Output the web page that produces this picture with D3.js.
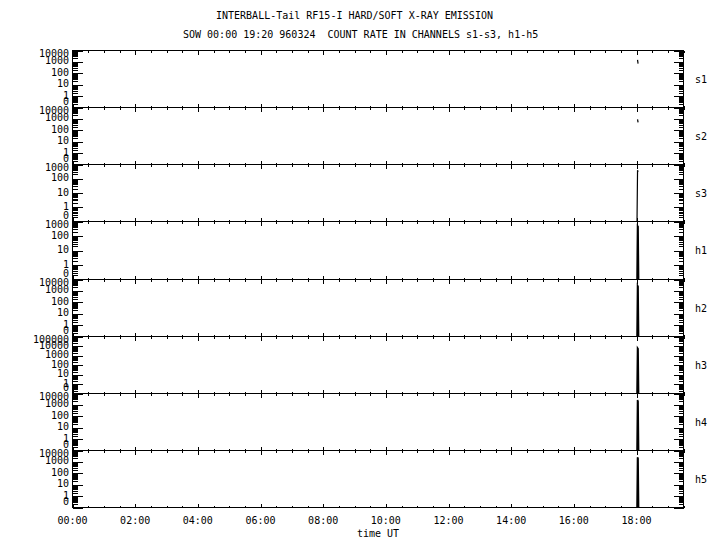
<!DOCTYPE html>
<html>
<head>
<meta charset="utf-8">
<script src="https://cdn.jsdelivr.net/npm/d3@7"></script>
<style>
  html, body { margin: 0; padding: 0; background: #fff; }
  svg { display: block; }
  text { font-family: "DejaVu Sans Mono", "Liberation Mono", monospace; font-size: 10px; fill: #000; white-space: pre; }
</style>
</head>
<body>
<script>
// ---------- data ----------
const titleLines = [
  "INTERBALL-Tail RF15-I HARD/SOFT X-RAY EMISSION",
  "SOW 00:00 19:20 960324  COUNT RATE IN CHANNELS s1-s3, h1-h5"
];
const channels = ["s1", "s2", "s3", "h1", "h2", "h3", "h4", "h5"];
const channelTop = [10000, 10000, 1000, 1000, 10000, 100000, 10000, 10000];
const xTickLabels = ["00:00", "02:00", "04:00", "06:00", "08:00", "10:00", "12:00", "14:00", "16:00", "18:00"];
const xLabel = "time UT";
const burstTimes = ["18:01", "18:02", "18:03", "18:04"];
const s1 = [null, 1500, 700, null];
const s2 = [null, 900, 500, null];
const s3 = [0, 400, 300, null];
const h1 = [0, 500, 450, 0];
const h2 = [0, 3000, 2500, 0];
const h3 = [0, 6000, 5000, 0];
const h4 = [0, 2700, 2000, 0];
const h5 = [0, 2500, 2000, 0];
const seriesValues = [s1, s2, s3, h1, h2, h3, h4, h5];

// ---------- layout ----------
const W = 720, H = 550;
const left = 72.5, right = 683.5;
const panelRows = [50, 107, 164, 221, 279, 336, 393, 450, 507];

const toHours = s => { const [h, m] = s.split(":").map(Number); return h + m / 60; };

const svg = d3.select("body").append("svg").attr("width", W).attr("height", H);
svg.append("rect").attr("width", W).attr("height", H).attr("fill", "#fff");

const x = d3.scaleLinear().domain([0, 19.5]).range([left, right]);

// titles
svg.append("text").attr("x", 216).attr("y", 15).attr("dominant-baseline", "central")
  .attr("xml:space", "preserve").text(titleLines[0]);
svg.append("text").attr("x", 183).attr("y", 34).attr("dominant-baseline", "central")
  .attr("xml:space", "preserve").text(titleLines[1]);

const majorX = d3.range(0, 19.5 + 1e-9, 2);
const minorX = d3.range(0, 19.5 + 1e-9, 0.5).filter(v => Math.abs(v % 2) > 1e-9);

channels.forEach((ch, i) => {
  const pt = panelRows[i] + 0.5, pb = panelRows[i + 1] + 0.5;
  const y = d3.scaleLog().domain([0.1, channelTop[i]]).range([pb, pt]).clamp(true);
  const g = svg.append("g");

  // frame
  g.append("rect").attr("x", left).attr("y", pt).attr("width", right - left).attr("height", pb - pt)
    .attr("fill", "none").attr("stroke", "#000").attr("stroke-width", 1).attr("shape-rendering", "crispEdges");

  // x ticks (top & bottom, inward)
  const tk = (v, len) => {
    const xx = Math.round(x(v)) + 0.5;
    g.append("line").attr("x1", xx).attr("x2", xx).attr("y1", pt).attr("y2", pt + len);
    g.append("line").attr("x1", xx).attr("x2", xx).attr("y1", pb).attr("y2", pb - len);
  };
  majorX.forEach(v => tk(v, 4));
  minorX.forEach(v => tk(v, 2));

  // y ticks (left & right, inward)
  const decades = [];
  for (let d = 0.1; d < channelTop[i] * 1.0001; d *= 10) decades.push(+d.toPrecision(3));
  const ytk = (v, len) => {
    const yy = Math.round(y(v)) + 0.5;
    g.append("line").attr("x1", left).attr("x2", left + len).attr("y1", yy).attr("y2", yy);
    g.append("line").attr("x1", right).attr("x2", right - len).attr("y1", yy).attr("y2", yy);
  };
  decades.forEach((d, k) => {
    ytk(d, 10);
    if (k < decades.length - 1) d3.range(2, 10).forEach(m => ytk(d * m, 5));
  });
  g.selectAll("line").attr("stroke", "#000").attr("stroke-width", 1).attr("shape-rendering", "crispEdges");

  // y labels
  decades.forEach(d => {
    let yy = y(d) - 1;
    yy = Math.max(pt + 2.5, Math.min(pb - 6.5, yy));
    g.append("text").attr("x", 69).attr("y", yy).attr("text-anchor", "end")
      .attr("dominant-baseline", "central").text(d < 1 ? "0" : String(d));
  });

  // channel name
  g.append("text").attr("x", 695).attr("y", (pt + pb) / 2).attr("dominant-baseline", "central").text(ch);

  // data
  const data = burstTimes.map((t, k) => ({ t: toHours(t), v: seriesValues[i][k] }));
  const line = d3.line().defined(d => d.v != null)
    .x(d => x(d.t)).y(d => y(Math.max(d.v, 0.1)));
  g.append("path").datum(data).attr("d", line).attr("fill", "none")
    .attr("stroke", "#000").attr("stroke-width", i < 3 ? 1.2 : 1.6);
});

// x tick labels
xTickLabels.forEach(lbl => {
  svg.append("text").attr("x", x(toHours(lbl))).attr("y", 520).attr("text-anchor", "middle")
    .attr("dominant-baseline", "central").text(lbl);
});
svg.append("text").attr("x", (left + right) / 2).attr("y", 533).attr("text-anchor", "middle")
  .attr("dominant-baseline", "central").text(xLabel);
</script>
</body>
</html>
